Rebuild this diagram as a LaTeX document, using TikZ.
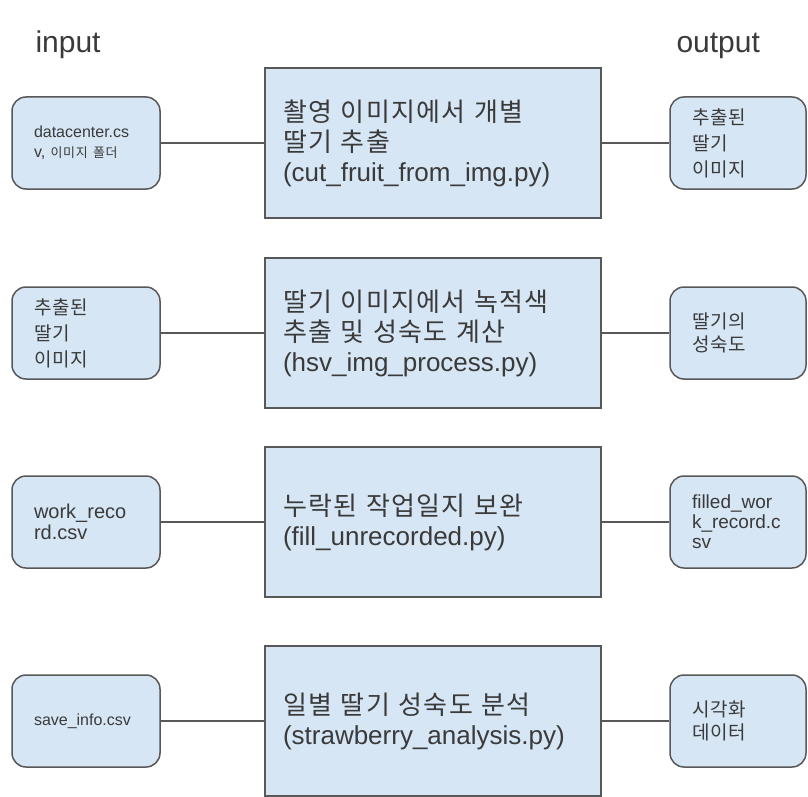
\documentclass[tikz,border=0pt]{standalone}
\usepackage{fontspec}
\setmainfont{Liberation Sans}
\newfontfamily\krfont[LetterSpace=5]{Noto Sans CJK KR}
\definecolor{StepFill}{RGB}{214,230,245}
\definecolor{StepLine}{RGB}{88,88,88}
\definecolor{StepText}{RGB}{58,58,58}
\def\kr#1{{\krfont #1}}

\begin{document}
\begin{tikzpicture}
    [x=1pt,y=-1pt,
    proc/.style={rectangle,draw=StepLine,line width=1.5pt,fill=StepFill,text=StepText,inner xsep=18pt,text width=300pt,minimum height=150pt,align=left,font=\fontsize{26}{30}\selectfont},
    io/.style={rectangle,rounded corners=14pt,draw=StepLine,line width=1.5pt,fill=StepFill,text=StepText,inner xsep=22pt,text width=104pt,minimum height=92pt,align=left,font=\fontsize{19}{26}\selectfont},
    outio/.style={io,text width=92pt},
    head/.style={anchor=base west,text=StepText,font=\fontsize{30}{36}\selectfont},
    ]
    \useasboundingbox (0,0) rectangle (808,797);
    \node[head] (inhead) at (32,53) {input};
    \node[head] (outhead) at (673,53) {output};
    % row 1
    \node[io,font=\fontsize{16}{20}\selectfont] (in1) at (86,143) {datacenter.cs\\v, {\fontsize{13}{20}\selectfont\kr{이미지 폴더}}};
    \node[proc] (p1) at (433,143) {\kr{촬영 이미지에서 개별}\\\kr{딸기 추출}\\(cut\_fruit\_from\_img.py)};
    \node[outio] (out1) at (738,143) {\kr{추출된}\\\kr{딸기}\\\kr{이미지}};
    % row 2
    \node[io] (in2) at (86,333) {\kr{추출된}\\\kr{딸기}\\\kr{이미지}};
    \node[proc] (p2) at (433,333) {\kr{딸기 이미지에서 녹적색}\\\kr{추출 및 성숙도 계산}\\(hsv\_img\_process.py)};
    \node[outio,font=\fontsize{19}{23}\selectfont] (out2) at (738,333) {\kr{딸기의}\\\kr{성숙도}};
    % row 3
    \node[io,font=\fontsize{20}{21}\selectfont] (in3) at (86,522) {work\_reco\\rd.csv};
    \node[proc] (p3) at (433,522) {\kr{누락된 작업일지 보완}\\(fill\_unrecorded.py)};
    \node[outio,font=\fontsize{19}{20}\selectfont] (out3) at (738,522) {filled\_wor\\k\_record.c\\sv};
    % row 4
    \node[io,font=\fontsize{16}{20}\selectfont] (in4) at (86,721) {save\_info.csv};
    \node[proc] (p4) at (433,721) {\kr{일별 딸기 성숙도 분석}\\(strawberry\_analysis.py)};
    \node[outio,font=\fontsize{19}{23}\selectfont] (out4) at (738,721) {\kr{시각화}\\\kr{데이터}};
    \path[StepLine, line width=1.5pt] (in1) edge (p1) (p1) edge (out1)
    (in2) edge (p2) (p2) edge (out2) (in3) edge (p3) (p3) edge (out3)
    (in4) edge (p4) (p4) edge (out4);
  \end{tikzpicture}
\end{document}
